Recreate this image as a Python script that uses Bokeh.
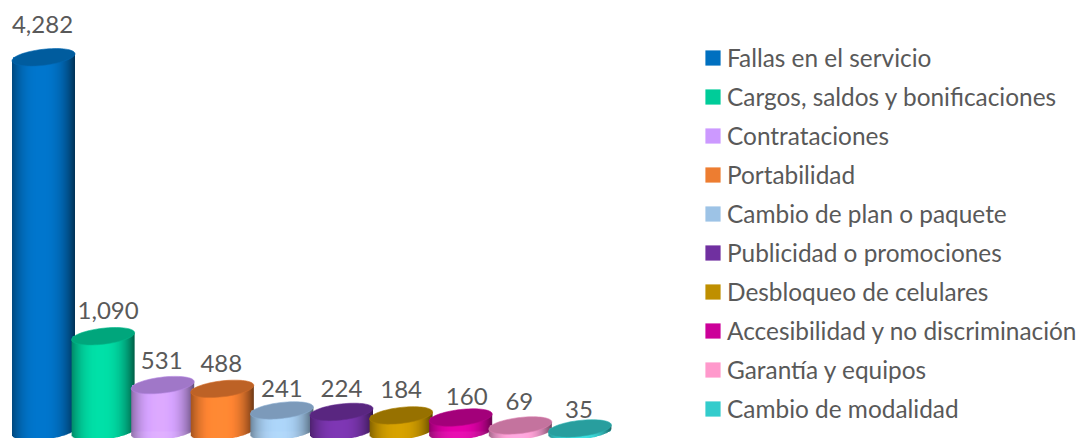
import math
from bokeh.plotting import figure
from bokeh.models import ColumnDataSource, Legend, LegendItem
from bokeh.core.properties import value
from bokeh.embed import file_html
from bokeh.resources import INLINE

categories = ["Fallas en el servicio", "Cargos, saldos y bonificaciones", "Contrataciones",
              "Portabilidad", "Cambio de plan o paquete", "Publicidad o promociones",
              "Desbloqueo de celulares", "Accesibilidad y no discriminación",
              "Garantía y equipos", "Cambio de modalidad"]
values = [4282, 1090, 531, 488, 241, 224, 184, 160, 69, 35]
legend_colors = ["#0070C0", "#00CC99", "#CC99FF", "#ED7D31", "#9DC3E6",
                 "#7030A0", "#BF8F00", "#CC0099", "#FF99CC", "#33CCCC"]
side_colors = ["#0072C6", "#00D8A2", "#D6A4FF", "#FF8533", "#A8CFF2",
               "#7A35AE", "#CF9C00", "#DE00A6", "#FFA3D8", "#36DCDC"]
top_colors = ["#005C9E", "#00A67C", "#A077C8", "#BD6226", "#7C9ABA",
              "#592680", "#977100", "#A3007A", "#C4739E", "#289E9E"]
label_lift = [33, 26, 25, 25, 22, 23, 26, 21, 24, 19]
label_shift = [-1, 5, -1, -1, 0, 0, 0, 6, -1, -1]

WIDTH, HEIGHT = 1079, 438
PX_PER_UNIT = 0.0874
BASE_Y_PAGE = 431
X0, PITCH = 43.0, 59.6
A, B, TILT = 31.5, 8.0, 0.11

def px2u(px):
    return px / PX_PER_UNIT

base_from_bottom = HEIGHT - BASE_Y_PAGE
p = figure(width=WIDTH, height=HEIGHT, output_backend="svg", toolbar_location=None,
           x_range=(0, WIDTH),
           y_range=(px2u(-base_from_bottom), px2u(HEIGHT - base_from_bottom)),
           min_border=0, min_border_left=0, min_border_right=0, min_border_top=0, min_border_bottom=0)
p.axis.visible = False
p.grid.visible = False
p.outline_line_color = None
p.background_fill_color = None
p.border_fill_color = None


def shade(hex_color, f):
    r, g, b = (int(hex_color[i:i + 2], 16) for i in (1, 3, 5))
    return "#%02x%02x%02x" % tuple(min(255, int(c * f)) for c in (r, g, b))


items = []
xs = [X0 + i * PITCH for i in range(len(values))]
for i, (cat, v, cx) in enumerate(zip(categories, values, xs)):
    # flat body, also the legend's swatch
    flat = p.quad(left=[cx - A + 1], right=[cx + A - 1], top=[v], bottom=[0],
                  fill_color=legend_colors[i], line_color=None)
    items.append(LegendItem(label=cat, renderers=[flat]))
    # shaded vertical strips
    n = int(2 * A)
    left, right, top, bottom, col = [], [], [], [], []
    for k in range(n):
        dx0 = -A + k
        dxm = dx0 + 0.5
        t = dxm / A
        f = 1.04 - 0.5 * abs(t + 0.08) ** 2.6
        arc = B * math.sqrt(max(0.0, 1 - t * t))
        left.append(cx + dx0)
        right.append(cx + dx0 + 1.5 if k < n - 1 else cx + dx0 + 1)
        top.append(v + px2u(TILT * dxm))
        bottom.append(px2u(TILT * dxm - arc))
        col.append(shade(side_colors[i], f))
    p.quad(left="l", right="r", top="t", bottom="b", fill_color="c", line_color=None,
           source=ColumnDataSource(dict(l=left, r=right, t=top, b=bottom, c=col)))
    # top ellipse
    ex, ey = [], []
    for k in range(72):
        a = 2 * math.pi * k / 72
        dx = A * math.cos(a)
        ex.append(cx + dx)
        ey.append(v + px2u(TILT * dx + B * math.sin(a)))
    p.patch(ex, ey, fill_color=top_colors[i], line_color=shade(top_colors[i], 1.12), line_width=0.6)

p.text(x=[x + s for x, s in zip(xs, label_shift)],
       y=[v + px2u(l) for v, l in zip(values, label_lift)],
       text=[f"{v:,}" for v in values], text_align="center", text_baseline="middle",
       text_font=value("Lato"), text_font_size="24px", text_color="#595959")

legend = Legend(items=items, location=(703, 10), orientation="vertical",
                glyph_width=19, glyph_height=19, label_standoff=5, spacing=0, padding=0, margin=0,
                label_height=39, label_text_font="Lato", label_text_font_size="24.4px",
                label_text_color="#595959", label_text_baseline="middle",
                background_fill_alpha=0, border_line_color=None)
p.add_layout(legend, "center")

open("out.html", "w").write(file_html(p, INLINE))
